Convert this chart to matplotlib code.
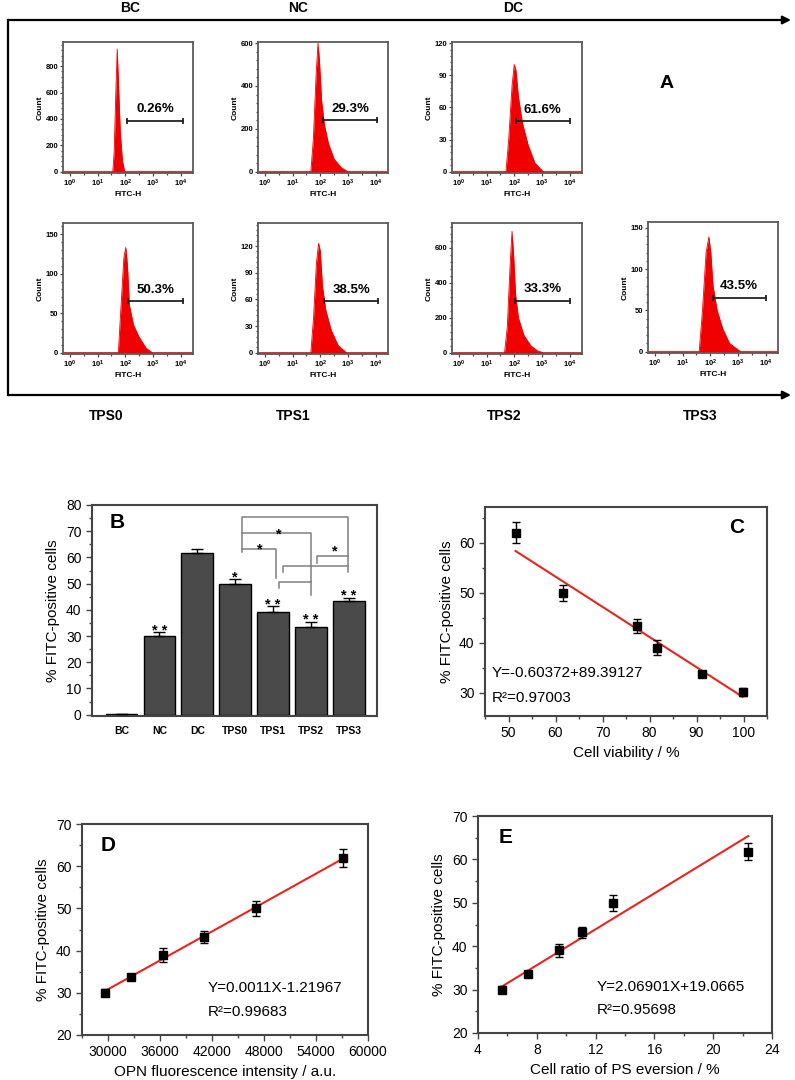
import matplotlib
matplotlib.use('Agg')
import matplotlib.pyplot as plt
import numpy as np
from matplotlib.ticker import MultipleLocator, AutoMinorLocator

plt.rcParams['font.family'] = ['Liberation Sans', 'DejaVu Sans']
plt.rcParams['mathtext.fontset'] = 'custom'
plt.rcParams['mathtext.rm'] = 'Liberation Sans:bold'
plt.rcParams['mathtext.it'] = 'Liberation Sans:italic'
plt.rcParams['mathtext.bf'] = 'Liberation Sans:bold'

# ---- panel A: FITC-H histograms (log10 intensity, count) ----
groups_A = ['BC', 'NC', 'DC', 'TPS0', 'TPS1', 'TPS2', 'TPS3']
bc_logx = [1.55, 1.60, 1.66, 1.71, 1.75, 1.82, 1.90, 1.98]
bc_count = [0, 150, 600, 930, 700, 300, 80, 0]
nc_logx = [1.66, 1.75, 1.85, 1.92, 1.97, 2.05, 2.15, 2.30, 2.50, 2.75, 3.00]
nc_count = [0, 150, 450, 600, 520, 330, 220, 130, 60, 20, 0]
dc_logx = [1.70, 1.80, 1.92, 2.00, 2.06, 2.15, 2.30, 2.50, 2.75, 3.05]
dc_count = [0, 30, 80, 100, 95, 70, 45, 25, 8, 0]
tps0_logx = [1.75, 1.85, 1.95, 2.02, 2.08, 2.15, 2.30, 2.50, 2.75, 2.98]
tps0_count = [0, 60, 120, 133, 110, 60, 35, 20, 6, 0]
tps1_logx = [1.66, 1.76, 1.86, 1.94, 2.00, 2.08, 2.20, 2.40, 2.65, 2.95]
tps1_count = [0, 40, 100, 123, 115, 75, 48, 25, 8, 0]
tps2_logx = [1.65, 1.75, 1.85, 1.92, 1.98, 2.05, 2.15, 2.35, 2.60, 2.85, 3.05]
tps2_count = [0, 150, 500, 695, 550, 330, 200, 100, 40, 10, 0]
tps3_logx = [1.60, 1.72, 1.85, 1.95, 2.02, 2.10, 2.25, 2.45, 2.70, 3.10]
tps3_count = [0, 50, 120, 139, 120, 80, 50, 28, 10, 0]
count_top = [983, 605, 121, 164, 146, 743, 157]
count_step = [200, 200, 30, 50, 30, 200, 50]
gate_start = [2.07, 2.10, 2.07, 2.10, 2.14, 2.03, 2.09]
gate_end = [4.10, 4.07, 4.00, 4.10, 4.10, 4.00, 4.00]
gate_level = [386, 240, 47, 65, 58, 297, 65]
gate_pct = ['0.26%', '29.3%', '61.6%', '50.3%', '38.5%', '33.3%', '43.5%']

# ---- panel B ----
groups_B = ['BC', 'NC', 'DC', 'TPS0', 'TPS1', 'TPS2', 'TPS3']
fitc_mean = [0.26, 30.1, 61.8, 49.9, 39.0, 33.6, 43.2]
fitc_err = [0.1, 1.4, 1.3, 1.8, 2.3, 1.9, 1.5]
sig_marks = ['', '**', '', '*', '**', '**', '**']

# ---- panel C ----
viability = [51.5, 61.6, 77.4, 81.7, 91.1, 99.8]
fitc_c = [62.0, 50.0, 43.3, 39.0, 33.7, 30.1]
err_c = [2.1, 1.6, 1.4, 1.5, 0.6, 0.8]

# ---- panel D ----
opn = [29620, 32640, 36290, 41100, 47090, 57140]
fitc_d = [30.0, 33.7, 39.0, 43.3, 50.0, 61.9]
err_d = [0.8, 0.6, 1.7, 1.4, 1.8, 2.2]

# ---- panel E ----
ps_ratio = [5.66, 7.43, 9.53, 11.05, 13.17, 22.38]
fitc_e = [30.0, 33.6, 39.1, 43.2, 49.9, 61.8]
err_e = [0.8, 0.6, 1.5, 1.3, 1.8, 2.0]

W, H = 795, 1080
RED = '#f00000'
SPINE = '#444444'


def fig_rect(left, top, w, h):
    return [left / W, 1 - (top + h) / H, w / W, h / H]


def style_spines(ax, lw=1.5, color=SPINE):
    for s in ax.spines.values():
        s.set_linewidth(lw)
        s.set_color(color)


fig = plt.figure(figsize=(W / 100, H / 100), dpi=100)

# overlay for the frame arrows and group labels of panel A
ov = fig.add_axes([0, 0, 1, 1])
ov.set_xlim(0, W)
ov.set_ylim(H, 0)
ov.axis('off')
arrow = dict(arrowstyle='-|>', color='black', lw=1.6, mutation_scale=12, shrinkA=0, shrinkB=0)
ov.annotate('', xy=(791, 20), xytext=(8, 20), arrowprops=arrow)
ov.annotate('', xy=(791, 395), xytext=(8, 395), arrowprops=arrow)
ov.plot([8, 8], [20, 395], color='black', lw=1.6)
for lab, x in zip(['BC', 'NC', 'DC'], [130, 298, 513]):
    ov.text(x, 8, lab, ha='center', va='center', fontsize=10, fontweight='bold')
for lab, x in zip(['TPS0', 'TPS1', 'TPS2', 'TPS3'], [106, 293, 504, 700]):
    ov.text(x, 416, lab, ha='center', va='center', fontsize=10, fontweight='bold')
ov.text(667, 83, 'A', ha='center', va='center', fontsize=14, fontweight='bold')

hist_logx = [bc_logx, nc_logx, dc_logx, tps0_logx, tps1_logx, tps2_logx, tps3_logx]
hist_count = [bc_count, nc_count, dc_count, tps0_count, tps1_count, tps2_count, tps3_count]
hist_pos = [(63, 42), (258, 42), (452, 42), (63, 223), (258, 223), (452, 223), (648, 222)]

for i, g in enumerate(groups_A):
    ax = fig.add_axes(fig_rect(hist_pos[i][0], hist_pos[i][1], 130, 131))
    ax.fill_between(hist_logx[i], 0, hist_count[i], color=RED, lw=0)
    ax.plot(hist_logx[i], hist_count[i], color=RED, lw=0.6)
    ax.axhline(0, color=RED, lw=1.2)
    ax.set_xlim(-0.25, 4.45)
    ax.set_ylim(-count_top[i] * 0.01, count_top[i])
    ax.yaxis.set_major_locator(MultipleLocator(count_step[i]))
    ax.yaxis.set_minor_locator(AutoMinorLocator(5))
    ax.set_xticks(range(5))
    ax.set_xticklabels([f'$10^{{{k}}}$' for k in range(5)])
    ax.xaxis.set_minor_locator(MultipleLocator(0.5))
    ax.tick_params(which='both', direction='out', labelsize=5.5, width=0.9, pad=1, color=SPINE)
    ax.tick_params(which='major', length=2.5)
    ax.tick_params(which='minor', length=1.5)
    for t in ax.get_yticklabels():
        t.set_fontweight('bold')
    ax.set_xlabel('FITC-H', fontsize=6, labelpad=1, fontweight='bold')
    ax.set_ylabel('Count', fontsize=6, labelpad=1, fontweight='bold')
    style_spines(ax, lw=1.3, color='#5a5a5a')
    ax.plot([gate_start[i], gate_end[i]], [gate_level[i]] * 2, color='#222222', lw=1.3,
            marker='|', ms=5, mew=1.3)
    ax.annotate(gate_pct[i], ((gate_start[i] + gate_end[i]) / 2, gate_level[i]),
                xytext=(0, 4), textcoords='offset points', ha='center', va='bottom',
                fontsize=9.5, fontweight='bold')

# ---- panel B: bar chart ----
axb = fig.add_axes(fig_rect(92, 505, 285, 211))
xb = np.arange(len(groups_B))
axb.bar(xb, fitc_mean, width=0.84, color='#4a4a4a', edgecolor='black', lw=1, zorder=2)
axb.errorbar(xb, fitc_mean, yerr=[np.zeros(len(xb)), fitc_err], fmt='none', ecolor='black',
             elinewidth=1, capsize=4, capthick=1, zorder=3)
for i, s in enumerate(sig_marks):
    if s:
        axb.annotate(s.replace('**', '* *'), (xb[i], fitc_mean[i] + fitc_err[i]), xytext=(0, -2),
                     textcoords='offset points', ha='center', va='baseline',
                     fontsize=10.5, fontweight='bold')
# comparison brackets between treatment groups
brackets = [
    ([3.17, 3.17, 5.98, 5.98], [62.2, 75.5, 75.5, 54.6]),
    ([3.17, 5.01, 5.01], [69.2, 69.2, 45.7]),
    ([3.17, 4.07, 4.07], [63.1, 63.1, 52.1]),
    ([5.16, 5.16, 5.98], [57.8, 60.6, 60.6]),
    ([4.26, 4.26, 5.98], [54.6, 56.8, 56.8]),
    ([4.16, 4.16, 5.01], [48.3, 50.8, 50.8]),
]
for bx, by in brackets:
    axb.plot(bx, by, color='#808080', lw=1.1, zorder=1)
for sx, sy in [(4.14, 70.5), (3.66, 64.8), (5.62, 64.1)]:
    axb.annotate('*', (sx, sy), xytext=(0, -6), textcoords='offset points',
                 ha='center', va='baseline', fontsize=10.5, fontweight='bold')
axb.set_xlim(-0.78, 6.74)
axb.set_ylim(-0.5, 80)
axb.set_xticks(xb)
axb.set_xticklabels(groups_B, fontsize=7.5, fontweight='bold')
axb.yaxis.set_major_locator(MultipleLocator(10))
axb.yaxis.set_minor_locator(MultipleLocator(5))
axb.tick_params(axis='x', length=0, pad=7)
axb.tick_params(axis='y', which='both', direction='out', labelsize=10, width=1, color=SPINE)
axb.tick_params(axis='y', which='major', length=4)
axb.tick_params(axis='y', which='minor', length=2)
axb.set_ylabel('% FITC-positive cells', fontsize=11)
axb.text(0.088, 0.915, 'B', transform=axb.transAxes, ha='center', va='center',
         fontsize=15, fontweight='bold')
style_spines(axb)


def scatter_panel(ax, x, y, err, xfit, yfit):
    ax.plot(xfit, yfit, color='#e8261f', lw=1.5, zorder=2)
    ax.errorbar(x, y, yerr=err, fmt='s', color='black', ms=6, ecolor='black',
                elinewidth=1, capsize=3, capthick=1, zorder=3)
    ax.tick_params(which='both', direction='out', labelsize=10, width=1, color=SPINE)
    ax.tick_params(which='major', length=4)
    ax.tick_params(which='minor', length=2)
    ax.set_ylabel('% FITC-positive cells', fontsize=11)
    style_spines(ax)


# ---- panel C ----
axc = fig.add_axes(fig_rect(485, 507, 282, 209))
xc = np.array([min(viability), max(viability)])
scatter_panel(axc, viability, fitc_c, err_c, xc, -0.60372 * xc + 89.39127)
axc.set_xlim(45, 105)
axc.set_ylim(25.3, 67.1)
axc.xaxis.set_major_locator(MultipleLocator(10))
axc.xaxis.set_minor_locator(MultipleLocator(5))
axc.yaxis.set_major_locator(MultipleLocator(10))
axc.yaxis.set_minor_locator(MultipleLocator(5))
axc.set_xlabel('Cell viability / %', fontsize=11)
axc.text(0.025, 0.206, 'Y=-0.60372+89.39127', transform=axc.transAxes, fontsize=11, va='center')
axc.text(0.025, 0.086, 'R²=0.97003', transform=axc.transAxes, fontsize=11, va='center')
axc.text(0.894, 0.904, 'C', transform=axc.transAxes, ha='center', va='center',
         fontsize=15, fontweight='bold')

# ---- panel D ----
axd = fig.add_axes(fig_rect(82, 824, 286, 211))
kd, bd = np.polyfit(opn, fitc_d, 1)
xd = np.array([min(opn), max(opn)])
scatter_panel(axd, opn, fitc_d, err_d, xd, kd * xd + bd)
axd.set_xlim(27000, 60000)
axd.set_ylim(20, 70)
axd.xaxis.set_major_locator(MultipleLocator(6000))
axd.xaxis.set_minor_locator(MultipleLocator(3000))
axd.yaxis.set_major_locator(MultipleLocator(10))
axd.yaxis.set_minor_locator(MultipleLocator(5))
axd.set_xlabel('OPN fluorescence intensity / a.u.', fontsize=11)
axd.text(0.44, 0.223, 'Y=0.0011X-1.21967', transform=axd.transAxes, fontsize=11, va='center')
axd.text(0.44, 0.109, 'R²=0.99683', transform=axd.transAxes, fontsize=11, va='center')
axd.text(0.091, 0.90, 'D', transform=axd.transAxes, ha='center', va='center',
         fontsize=15, fontweight='bold')

# ---- panel E ----
axe = fig.add_axes(fig_rect(478, 816, 294, 217))
xe = np.array([min(ps_ratio), max(ps_ratio)])
scatter_panel(axe, ps_ratio, fitc_e, err_e, xe, 2.06901 * xe + 19.0665)
axe.set_xlim(4, 24)
axe.set_ylim(20, 70)
axe.xaxis.set_major_locator(MultipleLocator(4))
axe.xaxis.set_minor_locator(MultipleLocator(2))
axe.yaxis.set_major_locator(MultipleLocator(10))
axe.yaxis.set_minor_locator(MultipleLocator(5))
axe.set_xlabel('Cell ratio of PS eversion / %', fontsize=11)
axe.text(0.405, 0.212, 'Y=2.06901X+19.0665', transform=axe.transAxes, fontsize=11, va='center')
axe.text(0.405, 0.106, 'R²=0.95698', transform=axe.transAxes, fontsize=11, va='center')
axe.text(0.095, 0.903, 'E', transform=axe.transAxes, ha='center', va='center',
         fontsize=15, fontweight='bold')

fig.savefig('out.png', dpi=100)
